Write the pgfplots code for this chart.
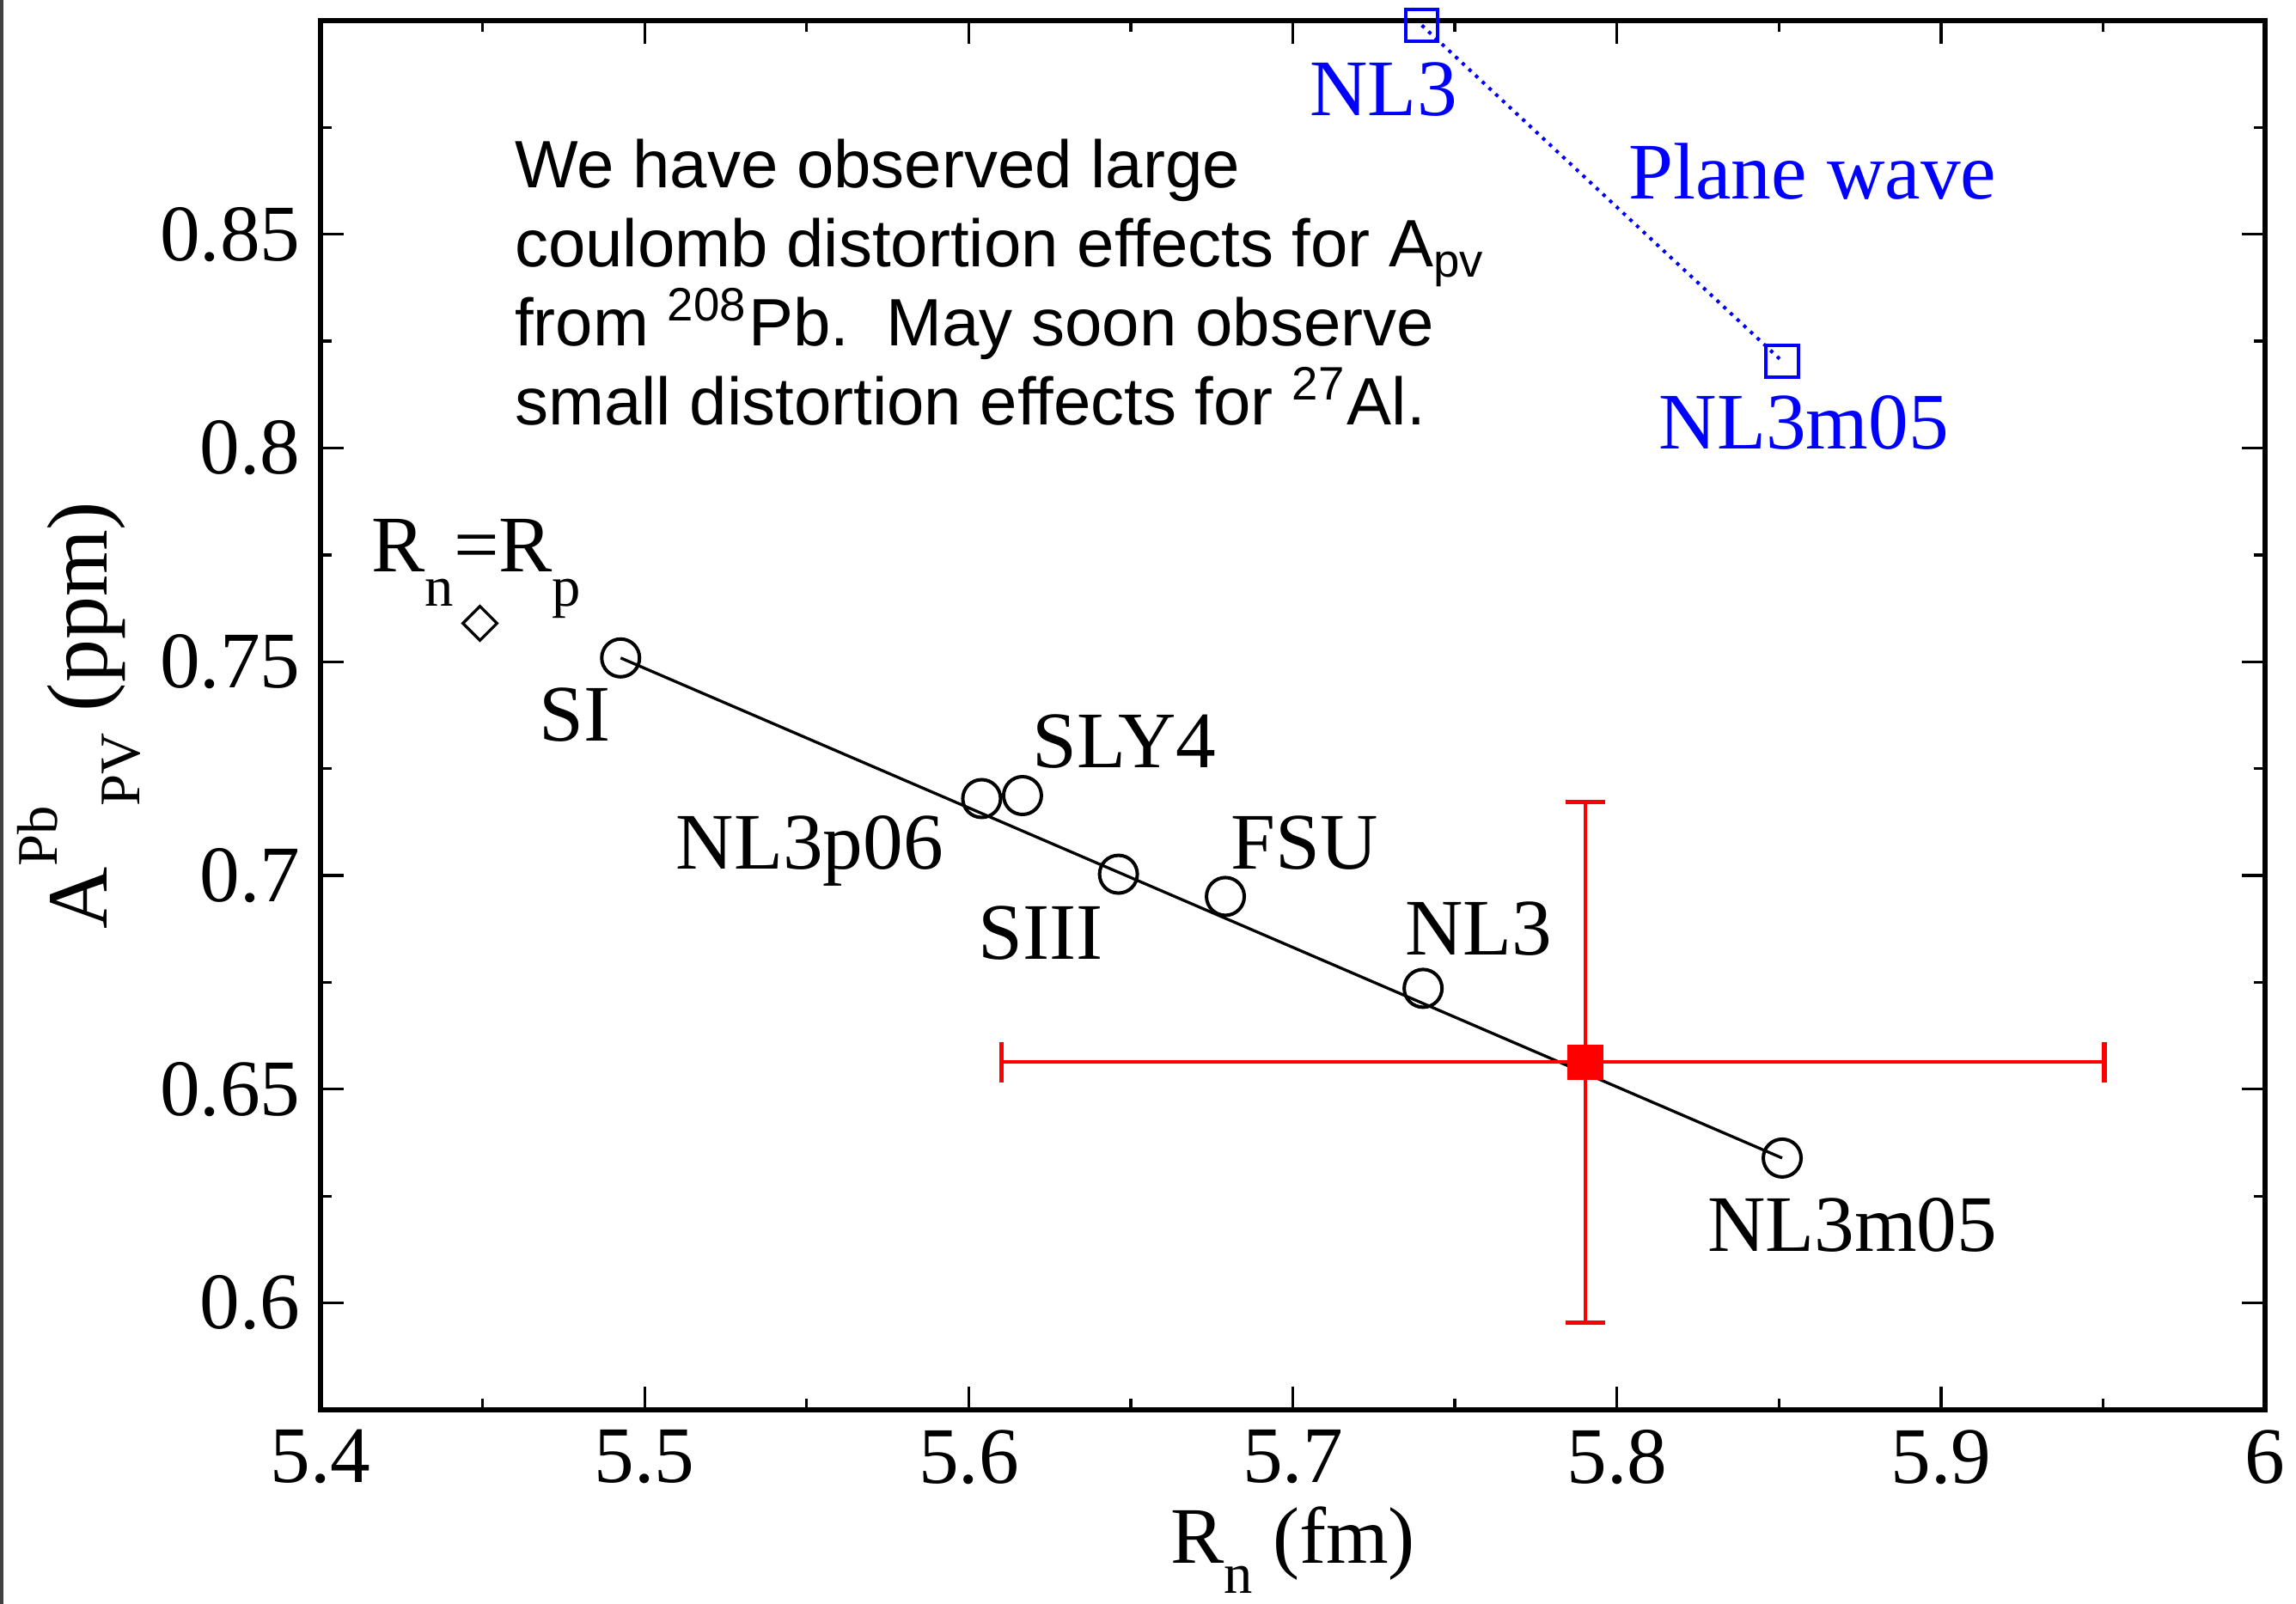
\documentclass[border=0pt]{standalone}
\usepackage{fontspec}
\setmainfont{Liberation Serif}
\newfontfamily\annot{Liberation Sans}
\usepackage{pgfplots}
\pgfplotsset{compat=1.18}

\newcommand\lbl{\fontsize{14}{16}\selectfont}
\newcommand\sub[2]{\raisebox{#1}{\fontsize{10}{10}\selectfont #2}}

\begin{document}
\begin{tikzpicture}
\useasboundingbox (-55.95pt,-33.9pt) rectangle (344.85pt,246.15pt);
\draw[black!75, line width=0.6pt] (-55.65pt,-33.9pt) -- (-55.65pt,246.15pt);
\begin{axis}[
  at={(0,0)}, anchor=south west,
  scale only axis, width=339.45pt, height=242.55pt,
  xmin=5.4, xmax=6, ymin=0.575, ymax=0.9,
  xtick={5.4,5.5,5.6,5.7,5.8,5.9,6},
  ytick={0.6,0.65,0.7,0.75,0.8,0.85},
  minor xtick={5.45,5.55,5.65,5.75,5.85,5.95},
  minor ytick={0.625,0.675,0.725,0.775,0.825,0.875},
  tick align=inside, major tick length=4pt, minor tick length=2pt,
  axis line style={line width=0.8pt},
  every tick/.style={black, line width=0.5pt},
  tick label style={font=\lbl},
  /pgf/number format/assume math mode=true,
  clip=false,
  xlabel={R\sub{-5.2pt}{n} (fm)},
  ylabel={A\sub{8.7pt}{Pb}\sub{-5.7pt}{PV} (ppm)},
  xlabel style={font=\lbl, at={(axis description cs:0.5,-0.1105)}, anchor=base},
  ylabel style={font=\fontsize{15}{17}\selectfont, at={(axis description cs:-0.1096,0.5)}, anchor=base},
]
% fit line through the models
\addplot[black, line width=0.5pt] coordinates {(5.4926,0.7509) (5.8510,0.6339)};
% models
\addplot[black, only marks, mark=o, mark size=3.3pt, mark options={line width=0.6pt}] coordinates {
  (5.4926,0.7509) (5.6040,0.7180) (5.6166,0.7187) (5.6462,0.7003)
  (5.6792,0.6951) (5.7402,0.6736) (5.8510,0.6339)};
% Rn = Rp
\addplot[black, only marks, mark=square, mark size=2.1pt, mark options={rotate=45, line width=0.5pt}] coordinates {(5.4492,0.7590)};
% plane wave
\addplot[blue, densely dotted, line width=0.6pt, mark=square, mark size=2.8pt, mark options={solid, line width=0.6pt}]
  coordinates {(5.7398,0.8989) (5.8510,0.8203)};
% measurement
\addplot[red, only marks, mark=square*, mark size=2.9pt,
  error bars/.cd, x dir=both, y dir=both, x explicit, y explicit,
  error bar style={red, line width=0.6pt},
  error mark options={rotate=90, red, mark size=3.5pt, line width=0.8pt}]
  coordinates {(5.7903,0.6563) += (0.1601,0.0609) -= (0.1801,0.0609)};

\node[font=\lbl, anchor=base] at (axis cs:5.4786,0.7314) {SI};
\node[font=\lbl, anchor=base] at (axis cs:5.6480,0.7252) {SLY4};
\node[font=\lbl, anchor=base] at (axis cs:5.5509,0.7016) {NL3p06};
\node[font=\lbl, anchor=base] at (axis cs:5.7036,0.7016) {FSU};
\node[font=\lbl, anchor=base] at (axis cs:5.6223,0.6804) {SIII};
\node[font=\lbl, anchor=base] at (axis cs:5.7574,0.6815) {NL3};
\node[font=\lbl, anchor=base] at (axis cs:5.8726,0.6121) {NL3m05};
\node[font=\lbl, anchor=base west, inner sep=0pt] at (axis cs:5.4154,0.7710) {R\sub{-6pt}{n}=R\sub{-6pt}{p}};
\node[font=\lbl, text=blue, anchor=base] at (axis cs:5.7280,0.8777) {NL3};
\node[font=\lbl, text=blue, anchor=base] at (axis cs:5.8604,0.8582) {Plane wave};
\node[font=\lbl, text=blue, anchor=base] at (axis cs:5.8577,0.7997) {NL3m05};
\node[font=\annot\fontsize{11.7}{13.8}\selectfont, align=left, anchor=north west, inner sep=0pt]
  at (axis cs:5.4596,0.8726) {We have observed large\\coulomb distortion effects for A\textsubscript{pv}\\from \textsuperscript{208}Pb.\ \ May soon observe\\small distortion effects for \textsuperscript{27}Al.};
\end{axis}
\end{tikzpicture}
\end{document}
